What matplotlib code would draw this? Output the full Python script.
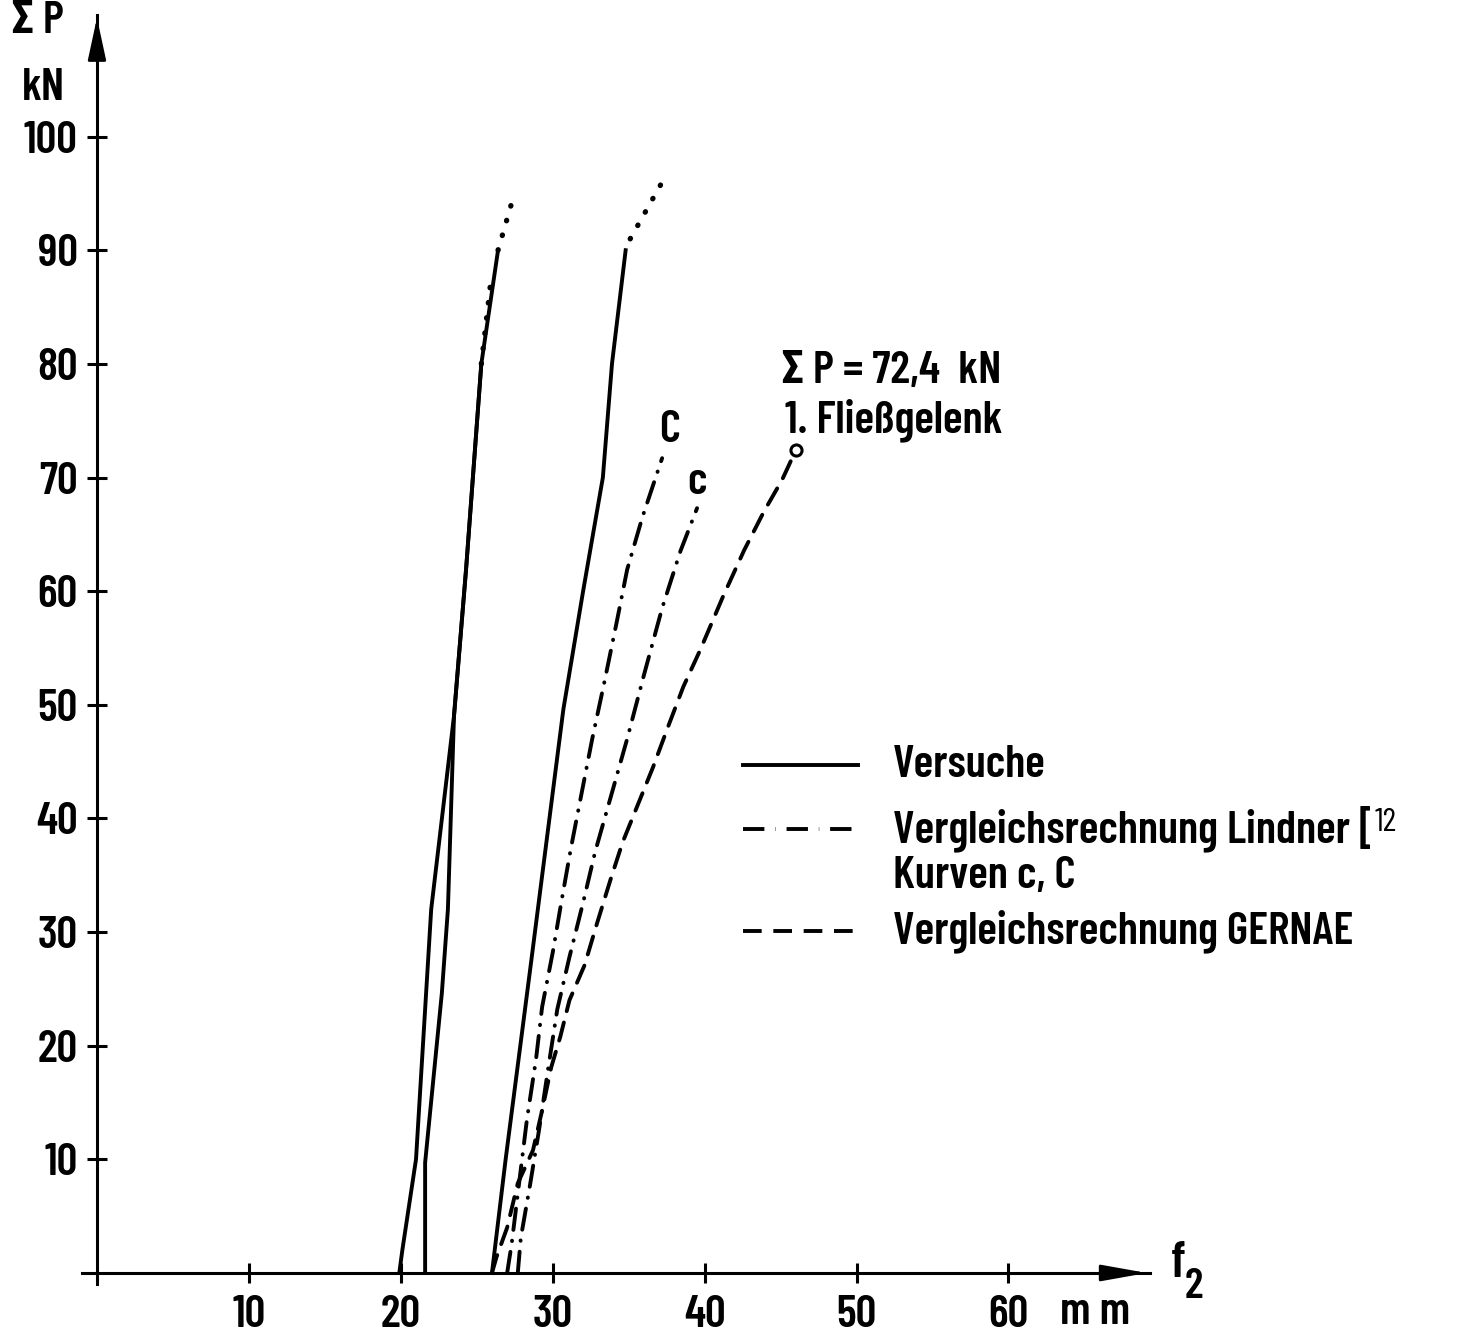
import numpy as np
import matplotlib
matplotlib.use('Agg')
import matplotlib.pyplot as plt

plt.rcParams['font.family'] = ['Barlow Condensed', 'Roboto Condensed', 'DejaVu Sans']
plt.rcParams['font.weight'] = 'semibold'

# Versuche (Messkurven), f2 in mm, Summe P in kN
f_v1 = [19.9, 20.1, 21.0, 22.0, 23.5, 24.3, 25.3]
p_v1 = [0, 2, 10, 32, 49, 62, 80]
f_v1_ext = [25.3, 25.9]
p_v1_ext = [80, 87]

f_v2 = [21.6, 21.6, 22.7, 23.1, 23.5, 24.3, 25.3, 26.4]
p_v2 = [0, 9.7, 24.6, 32, 49, 62, 80, 90]
f_v2_ext = [26.4, 27.5]
p_v2_ext = [90, 95.1]

f_v3 = [26.0, 26.9, 28.6, 30.7, 32.0, 33.3, 33.9, 34.8]
p_v3 = [0, 10, 27.6, 49.6, 60, 70, 80, 90]
f_v3_ext = [35.1, 37.5]
p_v3_ext = [91.0, 96.7]

# Vergleichsrechnung Lindner, Kurve C und c
f_lC = [27.0, 27.3, 28.3, 28.9, 29.3, 30.0, 30.6, 31.2, 32.0, 32.6, 33.4, 34.2, 34.9, 35.9, 37.2]
p_lC = [0, 2.6, 13.5, 18.8, 23.4, 28.2, 32.9, 37.4, 42.9, 47.0, 52.0, 57.2, 61.9, 66.5, 71.7]

f_lc = [27.7, 27.9, 28.5, 29.1, 29.7, 30.3, 31.1, 32.0, 32.8, 33.8, 34.9, 36.0, 37.2, 38.4, 39.5]
p_lc = [0, 3.1, 7.7, 12.6, 18.0, 23.2, 27.8, 32.6, 37.1, 41.8, 47.0, 52.6, 58.5, 63.5, 67.3]

# Vergleichsrechnung GERNAE
f_g = [26.0, 26.3, 27.0, 27.7, 28.7, 29.3, 29.9, 30.5, 31.1, 32.1, 32.9, 33.8, 34.6, 35.6,
       36.6, 37.6, 38.6, 39.7, 41.2, 42.6, 43.9, 45.1, 46.0]
p_g = [0, 1.4, 4.0, 7.9, 10.8, 14.3, 18.1, 20.8, 24.0, 27.1, 30.7, 34.6, 37.9, 41.2,
       44.5, 48.1, 51.6, 54.8, 59.5, 63.6, 67.0, 69.8, 72.4]

x_ticks = [10, 20, 30, 40, 50, 60]
y_ticks = [10, 20, 30, 40, 50, 60, 70, 80, 90, 100]

lw = 2.8
fs = 33
dashdot = (0, (5.5, 2.8, 0.1, 2.8))
dashed = (0, (4.8, 3.0))
dotted = (0, (0.1, 2.8))

fig = plt.figure(figsize=(14.63, 13.38), dpi=100)
ax = fig.add_axes([0.0559, 0.0401, 0.730, 0.9487])
ax.set_xlim(-1, 69.3)
ax.set_ylim(-1, 110.7)

ax.plot(f_v1, p_v1, color='black', lw=lw)
ax.plot(f_v2, p_v2, color='black', lw=lw)
ax.plot(f_v3, p_v3, color='black', lw=lw)
for fx, px in [(f_v1_ext, p_v1_ext), (f_v2_ext, p_v2_ext), (f_v3_ext, p_v3_ext)]:
    ax.plot(fx, px, color='black', lw=lw + 1.0, linestyle=dotted, dash_capstyle='round')

ax.plot(f_lC, p_lC, color='black', lw=lw, linestyle=dashdot, dash_capstyle='round')
ax.plot(f_lc, p_lc, color='black', lw=lw, linestyle=dashdot, dash_capstyle='round')
ax.plot(f_g, p_g, color='black', lw=lw, linestyle=dashed, dash_capstyle='round')
ax.plot(f_g[-1], p_g[-1], marker='o', ms=8, mfc='white', mec='black', mew=2.2)

# Achsen
for s in ['top', 'right']:
    ax.spines[s].set_visible(False)
ax.spines['left'].set_position(('data', 0))
ax.spines['bottom'].set_position(('data', 0))
ax.spines['left'].set_linewidth(2.2)
ax.spines['bottom'].set_linewidth(2.2)
ax.set_xticks(x_ticks)
ax.set_yticks(y_ticks)
ax.tick_params(direction='inout', length=14, width=2.2, labelsize=fs, pad=7)
ax.tick_params(axis='x', pad=9)
ax.annotate('', xy=(69.3, 0), xytext=(66.3, 0),
            arrowprops=dict(arrowstyle='-|>,head_length=1.4,head_width=0.25',
                            color='black', lw=2, mutation_scale=20))
ax.annotate('', xy=(0, 110.7), xytext=(0, 107.0),
            arrowprops=dict(arrowstyle='-|>,head_length=1.3,head_width=0.28',
                            color='black', lw=2, mutation_scale=20))

ax.text(-3.9, 110.2, 'Σ P', fontsize=fs, ha='center', va='center', clip_on=False)
ax.text(-3.5, 104.3, 'kN', fontsize=fs, ha='center', va='center', clip_on=False)
ax.text(65.7, -3.4, 'm m', fontsize=fs, ha='center', va='center', clip_on=False)
ax.text(70.7, 0.8, 'f', fontsize=fs + 4, ha='left', va='center', clip_on=False)
ax.text(71.6, -1.2, '2', fontsize=fs - 2, ha='left', va='center', clip_on=False)

ax.text(37.7, 74.2, 'C', fontsize=fs, ha='center', va='center')
ax.text(39.5, 69.6, 'c', fontsize=fs, ha='center', va='center')
ax.text(45.0, 79.4, 'Σ P = 72,4  kN', fontsize=fs, ha='left', va='center')
ax.text(45.3, 75.0, '1. Fließgelenk', fontsize=fs, ha='left', va='center')

# Legende
ax.plot([42.5, 50.1], [44.7, 44.7], color='black', lw=lw)
ax.plot([42.5, 50.1], [39.1, 39.1], color='black', lw=lw, linestyle=dashdot)
ax.plot([42.5, 50.1], [30.1, 30.1], color='black', lw=lw, linestyle=dashed)
ax.text(52.4, 44.7, 'Versuche', fontsize=fs, ha='left', va='center', clip_on=False)
t_lind = ax.text(52.4, 39.1, 'Vergleichsrechnung Lindner [', fontsize=fs,
                 ha='left', va='center', clip_on=False)
ax.annotate('12', xy=(1.0, 0.62), xycoords=t_lind, fontsize=24, fontweight='normal',
            ha='left', va='center', annotation_clip=False)
ax.text(52.4, 34.9, 'Kurven c, C', fontsize=fs, ha='left', va='center', clip_on=False)
ax.text(52.4, 30.1, 'Vergleichsrechnung GERNAE', fontsize=fs, ha='left', va='center', clip_on=False)

plt.savefig('out.png', dpi=100)
